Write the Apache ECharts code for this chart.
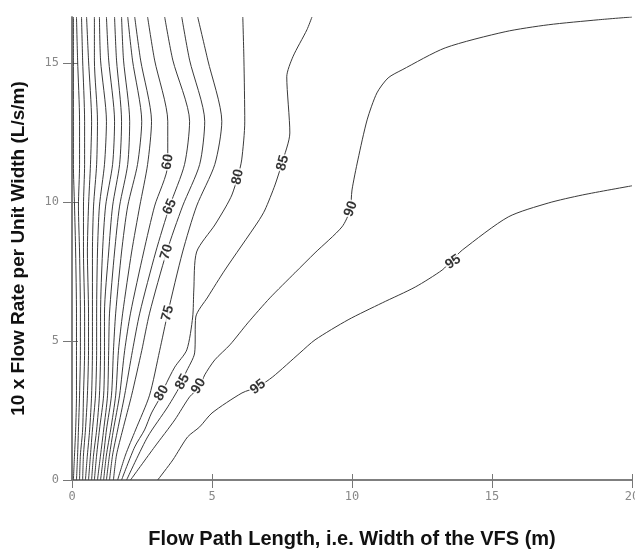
<!DOCTYPE html>
<html>
<head>
<meta charset="utf-8">
<script src="https://cdn.jsdelivr.net/npm/echarts@6/dist/echarts.min.js"></script>
<style>
  html, body { margin: 0; padding: 0; background: #fff; }
  #eChart { width: 635px; height: 549px; }
</style>
</head>
<body>
<div id="eChart"></div>
<script>
// flow rate rows (y) shared by the steep contours on the left
const yRows = [16.65, 15.1, 12.9, 11.35, 9.85, 8.2, 6.0, 4.65, 3.05, 1.8, 0.9, 0];
const yTicks = [0, 5, 10, 15];

// x position of each contour at the rows above
const c05 = [0.05, 0.05, 0.05, 0.05, 0.09, 0.13, 0.16, 0.16, 0.16, 0.13, 0.09, 0.05];
const c10 = [0.16, 0.2, 0.27, 0.27, 0.23, 0.27, 0.3, 0.3, 0.27, 0.23, 0.2, 0.16];
const c15 = [0.34, 0.38, 0.45, 0.45, 0.41, 0.41, 0.45, 0.45, 0.41, 0.38, 0.3, 0.27];
const c20 = [0.52, 0.59, 0.7, 0.66, 0.59, 0.55, 0.59, 0.59, 0.55, 0.48, 0.41, 0.38];
const c25 = [0.8, 0.8, 0.91, 0.88, 0.77, 0.73, 0.73, 0.73, 0.7, 0.63, 0.55, 0.48];
const c30 = [0.98, 1.02, 1.23, 1.16, 0.98, 0.91, 0.88, 0.88, 0.84, 0.73, 0.66, 0.59];
const c35 = [1.23, 1.31, 1.52, 1.45, 1.2, 1.09, 1.02, 1.02, 0.98, 0.88, 0.77, 0.7];
const c40 = [1.52, 1.59, 1.77, 1.7, 1.45, 1.31, 1.16, 1.16, 1.13, 0.98, 0.88, 0.8];
const c45 = [1.77, 1.84, 2.06, 1.99, 1.7, 1.52, 1.34, 1.31, 1.27, 1.13, 1.02, 0.91];
const c50 = [1.99, 2.16, 2.49, 2.34, 1.99, 1.77, 1.56, 1.48, 1.41, 1.23, 1.13, 1.02];
const c55 = [2.24, 2.45, 2.84, 2.7, 2.42, 2.13, 1.81, 1.66, 1.56, 1.38, 1.23, 1.13];
const c60 = [2.7, 2.95, 3.42, 3.42, 2.95, 2.56, 2.09, 1.88, 1.7, 1.48, 1.34, 1.23];
const c65 = [3.31, 3.6, 4.2, 4.02, 3.49, 2.99, 2.42, 2.16, 1.88, 1.63, 1.45, 1.34];
const c70 = [3.92, 4.2, 4.74, 4.56, 3.95, 3.38, 2.77, 2.49, 2.13, 1.81, 1.59, 1.48];
const c75 = [4.49, 4.85, 5.35, 5.1, 4.45, 3.95, 3.42, 3.13, 2.77, 2.27, 1.91, 1.63];

// the outer contours have their own points
const c80x = [6.1, 6.14, 6.17, 6.06, 5.92, 5.71, 5.49, 5.1, 4.45, 4.35, 4.31, 4.1, 3.67, 3.31, 3.2, 2.84, 2.59, 2.24, 1.77];
const c80y = [16.65, 15.11, 12.88, 11.51, 10.9, 10.25, 9.82, 9.17, 8.2, 6.83, 5.86, 4.68, 4.06, 3.35, 3.06, 2.41, 1.8, 1.19, 0];
const c85x = [8.57, 8.39, 7.89, 7.67, 7.78, 7.5, 7.25, 6.89, 6.64, 5.46, 4.85, 4.42, 4.38, 4.06, 3.92, 3.42, 2.7, 1.95];
const c85y = [16.65, 16.19, 15.22, 14.5, 12.48, 11.4, 10.61, 9.71, 9.28, 7.55, 6.58, 5.86, 4.57, 3.85, 3.49, 2.63, 1.55, 0];
const c90x = [2.09, 2.95, 3.67, 4.2, 4.56, 4.74, 5.1, 5.64, 6.28, 7.07, 7.96, 8.68, 9.64, 9.93, 10.0, 10.21, 10.54, 10.89, 11.29, 11.79, 13.33, 15.47, 17.01, 18.8, 20];
const c90y = [0, 1.19, 2.16, 2.99, 3.35, 3.78, 4.32, 4.86, 5.65, 6.55, 7.45, 8.17, 9.1, 9.71, 10.43, 11.51, 12.95, 13.92, 14.46, 14.75, 15.54, 16.12, 16.37, 16.55, 16.65];
const c95x = [3.06, 3.6, 4.13, 4.56, 5.0, 6.07, 6.64, 7.17, 8.14, 8.68, 9.86, 11.08, 12.26, 13.22, 13.58, 13.94, 15.58, 17.01, 18.23, 20];
const c95y = [0, 0.72, 1.55, 1.91, 2.41, 3.13, 3.35, 3.71, 4.57, 5.04, 5.76, 6.37, 6.94, 7.55, 7.91, 8.27, 9.46, 9.96, 10.25, 10.58];

// contour labels
const labelText = ["60", "65", "70", "75", "80", "85", "90", "95", "80", "85", "90", "95"];
const labelX = [3.42, 3.49, 3.38, 3.42, 5.92, 7.53, 9.96, 13.61, 3.2, 3.95, 4.52, 6.64];
const labelY = [11.44, 9.82, 8.2, 6.0, 10.9, 11.4, 9.75, 7.84, 3.13, 3.53, 3.38, 3.35];
const labelAngle = [80, 65, 72, 75, 78, 75, 70, 35, 60, 62, 60, 38];

const lowLevels = [c05, c10, c15, c20, c25, c30, c35, c40, c45, c50, c55, c60, c65, c70, c75];
const outerLevels = [[c80x, c80y], [c85x, c85y], [c90x, c90y], [c95x, c95y]];

const lineStyle = { color: "#3a3a3a", width: 1 };
const baseLine = {
  type: "line",
  showSymbol: false,
  smooth: 0.25,
  lineStyle: lineStyle,
  silent: true,
  xAxisIndex: 0,
  yAxisIndex: 0,
};

const series = [];
lowLevels.forEach((xs) => {
  series.push({ ...baseLine, data: yRows.map((y, i) => [xs[i], y]) });
});
outerLevels.forEach(([xs, ys]) => {
  series.push({ ...baseLine, data: xs.map((x, i) => [x, ys[i]]) });
});
series.push({
  type: "scatter",
  symbolSize: 1,
  itemStyle: { color: "rgba(0,0,0,0)" },
  silent: true,
  z: 10,
  data: labelText.map((t, i) => ({
    name: t,
    value: [labelX[i], labelY[i]],
    label: { rotate: labelAngle[i] },
  })),
  label: {
    show: true,
    position: "inside",
    formatter: (p) => p.name,
    color: "#000",
    fontFamily: "Liberation Sans",
    fontWeight: "bold",
    fontSize: 14,
    backgroundColor: "#fff",
    padding: [0, 1],
  },
});

const axisLine = { show: true, lineStyle: { color: "#777", width: 1.5 } };
const axisTick = { show: true, inside: false, length: 6, lineStyle: { color: "#777", width: 1 } };
const tickLabel = {
  color: "#888",
  fontFamily: "DejaVu Sans Mono",
  fontSize: 12,
};
const titleStyle = {
  fontFamily: "Liberation Sans",
  fontWeight: "bold",
  fontSize: 20,
  color: "#111",
};

const option = {
  animation: false,
  backgroundColor: "#fff",
  grid: {
    left: 72,
    right: 3,
    top: 17,
    bottom: 69,
    containLabel: false,
    outerBoundsMode: "none",
  },
  xAxis: [
    {
      type: "value",
      min: 0,
      max: 20,
      interval: 5,
      position: "bottom",
      name: "Flow Path Length, i.e. Width of the VFS (m)",
      nameLocation: "middle",
      nameGap: 49,
      nameTextStyle: titleStyle,
      axisLine: axisLine,
      axisTick: { ...axisTick, length: 8 },
      axisLabel: { ...tickLabel, margin: 11 },
      splitLine: { show: false },
    },
    {
      type: "value",
      min: 0,
      max: 20,
      interval: 5,
      position: "top",
      axisLine: axisLine,
      axisTick: axisTick,
      axisLabel: { show: false },
      splitLine: { show: false },
    },
  ],
  yAxis: [
    {
      type: "value",
      min: 0,
      max: 16.65,
      interval: 5,
      position: "left",
      name: "10 x Flow Rate per Unit Width (L/s/m)",
      nameLocation: "middle",
      nameGap: 44,
      nameTextStyle: { ...titleStyle, fontSize: 19 },
      axisLine: axisLine,
      axisTick: { ...axisTick, length: 9, customValues: yTicks },
      axisLabel: {
        ...tickLabel,
        margin: 13,
        customValues: yTicks,
      },
      splitLine: { show: false },
    },
    {
      type: "value",
      min: 0,
      max: 16.65,
      interval: 5,
      position: "right",
      axisLine: axisLine,
      axisTick: { ...axisTick, customValues: yTicks },
      axisLabel: { show: false },
      splitLine: { show: false },
    },
  ],
  series: series,
};

const myChart = echarts.init(document.getElementById("eChart"), null, {
  renderer: "canvas",
});
myChart.setOption(option);
</script>
</body>
</html>
